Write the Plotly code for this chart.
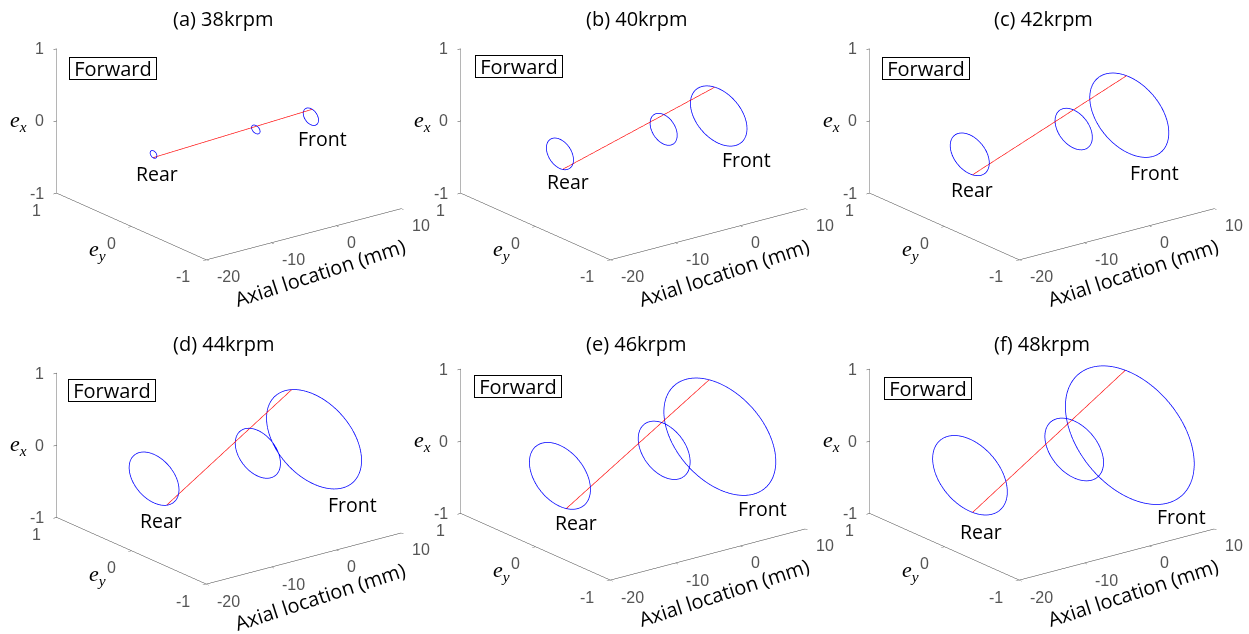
import numpy as np
import plotly.graph_objects as go

FIG_W, FIG_H = 1249, 634

# ---------------- data ----------------
panel_titles = ["(a) 38krpm", "(b) 40krpm", "(c) 42krpm",
                "(d) 44krpm", "(e) 46krpm", "(f) 48krpm"]
axial_ticks = [-20, -10, 0, 10]
axial_tick_labels = ["-20", "-10", "0", "10"]
e_ticks = [-1, 0, 1]
e_tick_labels = ["-1", "0", "1"]
axial_positions = [-16.3, -0.4, 8.2]          # rear, middle, front (mm)

# orbit centres (normalised eccentricity)
rear_ey_c = [0.027, -0.005, -0.016, 0.020, -0.005, -0.019]
rear_ex_c = [-0.101, -0.079, -0.080, -0.098, -0.103, -0.088]
mid_ey_c = [0.041, -0.010, -0.024, 0.014, -0.017, -0.031]
mid_ex_c = [-0.138, -0.112, -0.102, -0.119, -0.119, -0.101]
front_ey_c = [0.052, 0.001, -0.020, 0.010, -0.014, -0.027]
front_ex_c = [-0.169, -0.136, -0.115, -0.126, -0.135, -0.108]

# orbit amplitudes
rear_ey_amp = [0.045, 0.181, 0.261, 0.333, 0.408, 0.499]
rear_ex_amp = [0.050, 0.203, 0.270, 0.336, 0.423, 0.500]
mid_ey_amp = [0.057, 0.181, 0.249, 0.302, 0.347, 0.392]
mid_ex_amp = [0.056, 0.205, 0.264, 0.317, 0.371, 0.395]
front_ey_amp = [0.102, 0.378, 0.528, 0.635, 0.748, 0.861]
front_ex_amp = [0.112, 0.379, 0.531, 0.623, 0.736, 0.874]

# whirl angle (deg) of the rotor-line snapshot on rear / front orbits
rear_snap_deg = [280, 259, 262, 240, 258, 266]
front_snap_deg = [100, 82, 86, 62, 79, 86]

# ---------------- layout helpers ----------------
box_cx = [229, 633, 1042, 229, 633, 1042]
box_cy = [129, 129, 129, 453, 449, 449]
title_xy = [(223, 18), (637, 18), (1043, 18), (224, 343), (636, 343), (1042, 343)]
fwd_xy = [(113, 68.5), (519, 66.7), (926, 68.3), (111.5, 390.8), (517.5, 386.3), (927.5, 388.3)]
rear_lbl_shift = [(3, 19.5), (8, 28), (2, 35), (7, 42), (16, 47), (11, 56)]
front_lbl_shift = [(12, 22), (28, 43), (25, 57), (38, 65), (43, 72), (52, 81)]

DOM_W, DOM_H = 400, 280
PPU = 117.2 * DOM_H / 240.0          # screen px per scene unit (orthographic)
K = 1.28 * 240.0 / DOM_H
ASPECT = dict(x=1.6 * K, y=1.6 * K, z=1.0 * K)
az = np.deg2rad(232.5)
el = np.deg2rad(20.0)
R = 10.0
DIR = np.array([np.cos(el) * np.cos(az), np.cos(el) * np.sin(az), np.sin(el)])

BLUE = "#0000ff"
RED = "#ff0000"
AXC = "#3c3c3c"
TICKC = "#555555"
TXT_FONT = "Open Sans"
TICK_FONT = "Liberation Sans"
TICK_SIZE = 16

fig = go.Figure()
th = np.linspace(0, 2 * np.pi, 181)

for i in range(6):
    sid = "scene" if i == 0 else f"scene{i + 1}"
    centres = [(rear_ey_c[i], rear_ex_c[i]), (mid_ey_c[i], mid_ex_c[i]), (front_ey_c[i], front_ex_c[i])]
    amps = [(rear_ey_amp[i], rear_ex_amp[i]), (mid_ey_amp[i], mid_ex_amp[i]), (front_ey_amp[i], front_ex_amp[i])]
    for (cy, cx), (ay, ax), xp in zip(centres, amps, axial_positions):
        fig.add_trace(go.Scatter3d(
            x=np.full_like(th, xp), y=cy + ay * np.cos(th), z=cx + ax * np.sin(th),
            mode="lines", line=dict(color=BLUE, width=1.5), scene=sid,
            showlegend=False, hoverinfo="skip"))
    tr = np.deg2rad(rear_snap_deg[i])
    tf = np.deg2rad(front_snap_deg[i])
    ly = [centres[0][0] + amps[0][0] * np.cos(tr), centres[2][0] + amps[2][0] * np.cos(tf)]
    lz = [centres[0][1] + amps[0][1] * np.sin(tr), centres[2][1] + amps[2][1] * np.sin(tf)]
    fig.add_trace(go.Scatter3d(
        x=[axial_positions[0], axial_positions[2]], y=ly, z=lz,
        mode="lines", line=dict(color=RED, width=1.3), scene=sid,
        showlegend=False, hoverinfo="skip"))

    ax_common = dict(showgrid=False, zeroline=False, showbackground=False,
                     showline=True, linecolor=AXC, linewidth=1,
                     ticks="outside", ticklen=4, tickcolor=AXC, showticklabels=False,
                     showspikes=False, title=dict(text=""), autorange=False)

    # scene domain (kept inside the page) and camera shift to place the box centre
    cx0, cy0 = box_cx[i], box_cy[i]
    top = max(0.0, cy0 - DOM_H / 2)
    top = min(top, FIG_H - DOM_H)
    dom_cy = top + DOM_H / 2
    d_up = dom_cy - cy0
    cz = -d_up / (np.cos(el) * PPU)
    centre = np.array([0.0, 0.0, cz])
    eye = centre + R * DIR
    dom = dict(x=[(cx0 - DOM_W / 2) / FIG_W, (cx0 + DOM_W / 2) / FIG_W],
               y=[1 - (top + DOM_H) / FIG_H, 1 - top / FIG_H])

    tfont = dict(family=TICK_FONT, size=TICK_SIZE, color=TICKC)
    annots = []
    for v, s in zip(e_ticks, e_tick_labels):
        annots.append(dict(x=-20, y=1, z=v, text=s, showarrow=False, xanchor="right",
                           yanchor="middle", xshift=-11, font=tfont))
        annots.append(dict(x=-20, y=v, z=-1, text=s, showarrow=False, xanchor="right",
                           yanchor="middle", xshift=-14, yshift=-17, font=tfont))
    for v, s in zip(axial_ticks, axial_tick_labels):
        annots.append(dict(x=v, y=-1, z=-1, text=s, showarrow=False, xanchor="left",
                           yanchor="middle", xshift=9, yshift=-17, font=tfont))
    rpt = (axial_positions[0], centres[0][0], centres[0][1])
    fpt = (axial_positions[2], centres[2][0], centres[2][1])
    annots += [
        dict(x=-20, y=1, z=0, text="<i>e</i><sub><i>x</i></sub>", showarrow=False,
             xshift=-38, yshift=0, font=dict(family="Liberation Serif", size=22, color="#000")),
        dict(x=-20, y=0, z=-1, text="<i>e</i><sub><i>y</i></sub>", showarrow=False,
             xshift=-34, yshift=-24, font=dict(family="Liberation Serif", size=22, color="#000")),
        dict(x=-5, y=-1, z=-1, text="Axial location (mm)", showarrow=False, textangle=-18,
             xshift=16, yshift=-38, font=dict(family=TXT_FONT, size=20, color="#000")),
        dict(x=rpt[0], y=rpt[1], z=rpt[2], text="Rear", showarrow=False,
             xshift=rear_lbl_shift[i][0], yshift=-rear_lbl_shift[i][1],
             font=dict(family=TXT_FONT, size=19.5, color="#000")),
        dict(x=fpt[0], y=fpt[1], z=fpt[2], text="Front", showarrow=False,
             xshift=front_lbl_shift[i][0], yshift=-front_lbl_shift[i][1],
             font=dict(family=TXT_FONT, size=19.5, color="#000")),
    ]
    fig.update_layout(**{sid: dict(
        domain=dom,
        xaxis=dict(range=[-20, 10], tickvals=axial_ticks, **ax_common),
        yaxis=dict(range=[-1, 1], tickvals=e_ticks, **ax_common),
        zaxis=dict(range=[-1, 1], tickvals=e_ticks, **ax_common),
        aspectmode="manual", aspectratio=ASPECT,
        camera=dict(eye=dict(x=eye[0], y=eye[1], z=eye[2]), up=dict(x=0, y=0, z=1),
                    center=dict(x=centre[0], y=centre[1], z=centre[2]),
                    projection=dict(type="orthographic")),
        annotations=annots, bgcolor="rgba(0,0,0,0)")})

    tx, ty = title_xy[i]
    fig.add_annotation(x=tx / FIG_W, y=1 - ty / FIG_H, xref="paper", yref="paper",
                       xanchor="center", yanchor="middle",
                       text=panel_titles[i], showarrow=False,
                       font=dict(family=TXT_FONT, size=20, color="#000"))
    fx, fy = fwd_xy[i]
    fig.add_annotation(x=fx / FIG_W, y=1 - fy / FIG_H, xref="paper", yref="paper",
                       xanchor="center", yanchor="middle",
                       text="Forward", showarrow=False, bordercolor="#000", borderwidth=1,
                       borderpad=0, width=86, height=21, bgcolor="#fff",
                       font=dict(family=TXT_FONT, size=20, color="#000"))

fig.update_layout(width=FIG_W, height=FIG_H, margin=dict(l=0, r=0, t=0, b=0),
                  paper_bgcolor="#fff", showlegend=False)
fig.write_html("out.html", config={"displayModeBar": False},
               post_script="document.body.style.margin='0px';")
